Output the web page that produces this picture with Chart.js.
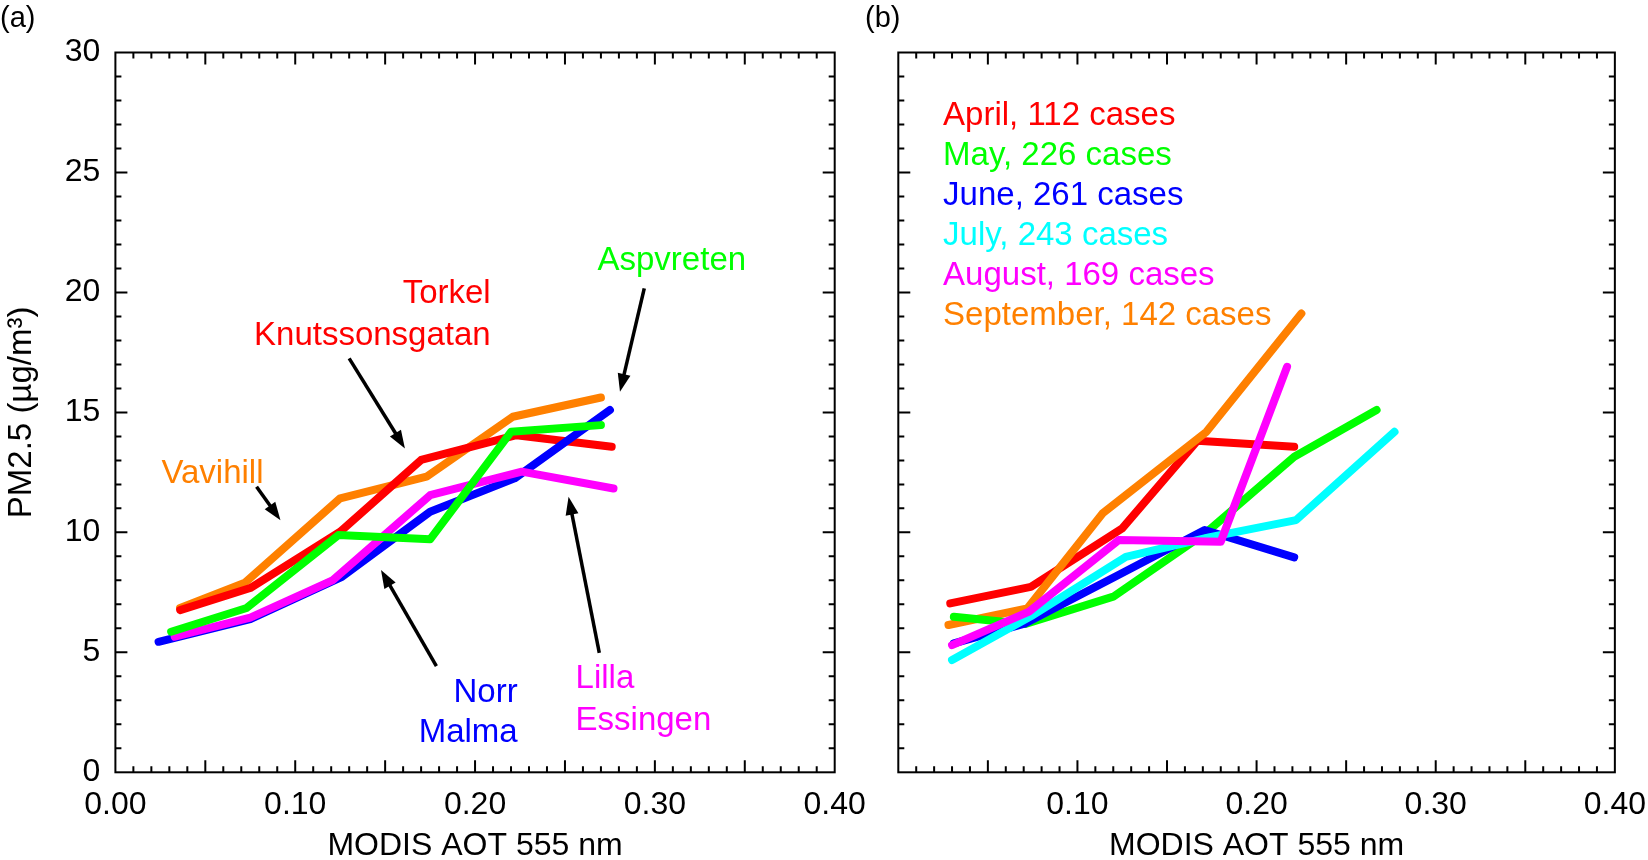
<!DOCTYPE html>
<html>
<head>
<meta charset="utf-8">
<title>PM2.5 vs MODIS AOT</title>
<script src="https://cdn.jsdelivr.net/npm/chart.js@4.4.1/dist/chart.umd.min.js"></script>
<style>
  html, body { margin: 0; padding: 0; background: #fff; overflow: hidden; }
  #wrap { position: relative; width: 1648px; height: 860px; }
  .panel { position: absolute; top: 0; height: 860px; }
  #panelA { left: 0; width: 880px; }
  #panelB { left: 860px; width: 800px; }
</style>
</head>
<body>
<div id="wrap">
  <div class="panel" id="panelA"><canvas id="chartA" width="880" height="860"></canvas></div>
  <div class="panel" id="panelB"><canvas id="chartB" width="800" height="860"></canvas></div>
</div>
<script>
// ---- data, panel (a): stations ----
const vavihillAot = [0.036, 0.072, 0.125, 0.173, 0.221, 0.270];
const vavihillPm  = [6.85, 7.90, 11.42, 12.32, 14.82, 15.62];
const torkelAot   = [0.036, 0.075, 0.125, 0.170, 0.223, 0.276];
const torkelPm    = [6.76, 7.68, 10.03, 13.02, 14.05, 13.57];
const norrAot     = [0.024, 0.075, 0.126, 0.175, 0.222, 0.275];
const norrPm      = [5.44, 6.38, 8.15, 10.86, 12.25, 15.10];
const lillaAot    = [0.033, 0.075, 0.121, 0.175, 0.226, 0.277];
const lillaPm     = [5.65, 6.45, 8.01, 11.55, 12.53, 11.83];
const aspvretenAot = [0.031, 0.073, 0.124, 0.175, 0.220, 0.270];
const aspvretenPm  = [5.86, 6.85, 9.89, 9.71, 14.19, 14.47];

// ---- data, panel (b): months ----
const aprilAot = [0.029, 0.074, 0.125, 0.167, 0.221];
const aprilPm  = [7.04, 7.73, 10.17, 13.82, 13.57];
const mayAot   = [0.031, 0.071, 0.120, 0.172, 0.221, 0.267];
const mayPm    = [6.48, 6.18, 7.32, 10.0, 13.15, 15.10];
const juneAot  = [0.031, 0.071, 0.121, 0.171, 0.221];
const junePm   = [5.37, 6.21, 8.15, 10.10, 8.96];
const julyAot  = [0.030, 0.074, 0.127, 0.174, 0.222, 0.277];
const julyPm   = [4.68, 6.50, 8.98, 9.80, 10.51, 14.19];
const augustAot = [0.030, 0.073, 0.123, 0.180, 0.217];
const augustPm  = [5.30, 6.70, 9.68, 9.61, 16.90];
const septemberAot = [0.028, 0.072, 0.114, 0.172, 0.225];
const septemberPm  = [6.14, 6.83, 10.79, 14.19, 19.12];

const monthLabels = ["April, 112 cases", "May, 226 cases", "June, 261 cases",
                     "July, 243 cases", "August, 169 cases", "September, 142 cases"];

// ---- axes ----
const xMin = 0, xMax = 0.4, xStep = 0.1, xMinor = 0.01;
const yMin = 0, yMax = 30, yStep = 5, yMinor = 1;

const RED = "#ff0000", GREEN = "#00ff00", BLUE = "#0000ff",
      CYAN = "#00ffff", MAGENTA = "#ff00ff", ORANGE = "#ff8000";
const FONT = "'Liberation Sans', Arial, Helvetica, sans-serif";

function pts(xs, ys) {
  return xs.map((x, i) => ({ x: x, y: ys[i] }));
}

function series(label, xs, ys, color) {
  return {
    label: label,
    data: pts(xs, ys),
    showLine: true,
    borderColor: color,
    backgroundColor: color,
    borderWidth: 8,
    borderCapStyle: "round",
    borderJoinStyle: "round",
    pointRadius: 0,
    tension: 0
  };
}

// frame plus inward ticks on all four sides
const frameTicks = {
  id: "frameTicks",
  afterDraw(chart) {
    const { ctx, chartArea: a, scales } = chart;
    const x = scales.x, y = scales.y;
    ctx.save();
    ctx.strokeStyle = "#000";
    ctx.lineWidth = 2;
    ctx.beginPath();
    const nx = Math.round((xMax - xMin) / xMinor);
    for (let i = 1; i < nx; i++) {
      const px = x.getPixelForValue(xMin + i * xMinor);
      const len = i % 5 === 0 ? 12 : 6;
      ctx.moveTo(px, a.bottom); ctx.lineTo(px, a.bottom - len);
      ctx.moveTo(px, a.top); ctx.lineTo(px, a.top + len);
    }
    const ny = Math.round((yMax - yMin) / yMinor);
    for (let j = 1; j < ny; j++) {
      const py = y.getPixelForValue(yMin + j * yMinor);
      const len = j % 5 === 0 ? 12 : 6;
      ctx.moveTo(a.left, py); ctx.lineTo(a.left + len, py);
      ctx.moveTo(a.right, py); ctx.lineTo(a.right - len, py);
    }
    ctx.stroke();
    ctx.strokeRect(a.left, a.top, a.right - a.left, a.bottom - a.top);
    ctx.restore();
  }
};

// labels and arrows, placed in data units
const notes = {
  id: "notes",
  afterDatasetsDraw(chart, args, opts) {
    const { ctx, scales } = chart;
    const x = scales.x, y = scales.y;
    ctx.save();
    ctx.textBaseline = "alphabetic";
    ctx.font = (opts.size || 33) + "px " + FONT;
    (opts.texts || []).forEach(t => {
      ctx.fillStyle = t.color;
      ctx.textAlign = t.align || "left";
      ctx.fillText(t.text, x.getPixelForValue(t.x), y.getPixelForValue(t.y));
    });
    ctx.strokeStyle = "#000";
    ctx.fillStyle = "#000";
    ctx.lineWidth = 3.5;
    (opts.arrows || []).forEach(ar => {
      const x0 = x.getPixelForValue(ar.from[0]), y0 = y.getPixelForValue(ar.from[1]);
      const x1 = x.getPixelForValue(ar.to[0]), y1 = y.getPixelForValue(ar.to[1]);
      const ang = Math.atan2(y1 - y0, x1 - x0);
      const hl = 18, hw = 6.5;
      const bx = x1 - hl * Math.cos(ang), by = y1 - hl * Math.sin(ang);
      ctx.beginPath();
      ctx.moveTo(x0, y0);
      ctx.lineTo(bx + 4 * Math.cos(ang), by + 4 * Math.sin(ang));
      ctx.stroke();
      ctx.beginPath();
      ctx.moveTo(x1, y1);
      ctx.lineTo(bx + hw * Math.sin(ang), by - hw * Math.cos(ang));
      ctx.lineTo(bx - hw * Math.sin(ang), by + hw * Math.cos(ang));
      ctx.closePath();
      ctx.fill();
    });
    if (opts.panel) {
      ctx.fillStyle = "#000";
      ctx.textAlign = "left";
      ctx.font = "29px " + FONT;
      ctx.fillText(opts.panel, opts.panelX, 27);
    }
    ctx.restore();
  }
};

function xAxis(showZero, withTitle) {
  return {
    type: "linear", min: xMin, max: xMax,
    grid: { display: false, drawTicks: false },
    border: { display: false },
    ticks: {
      stepSize: xStep, padding: 14, autoSkip: false, maxRotation: 0,
      color: "#000", font: { size: 32, family: FONT },
      callback: v => (!showZero && Math.abs(v) < 1e-9) ? "" : v.toFixed(2)
    },
    title: {
      display: withTitle, text: "MODIS AOT 555 nm", color: "#000",
      font: { size: 32, family: FONT, lineHeight: 0.85 }, padding: 0
    },
    afterFit: s => { s.height = 87.7; }
  };
}

const common = {
  responsive: false,
  animation: false,
  events: [],
  plugins: { legend: { display: false }, tooltip: { enabled: false } }
};

// panel (a)
new Chart(document.getElementById("chartA").getContext("2d"), {
  type: "scatter",
  data: {
    datasets: [
      series("Aspvreten", aspvretenAot, aspvretenPm, GREEN),
      series("Lilla Essingen", lillaAot, lillaPm, MAGENTA),
      series("Norr Malma", norrAot, norrPm, BLUE),
      series("Torkel Knutssonsgatan", torkelAot, torkelPm, RED),
      series("Vavihill", vavihillAot, vavihillPm, ORANGE)
    ]
  },
  options: Object.assign({}, common, {
    layout: { padding: { top: 52.5, right: 45.3, bottom: 0, left: 0 } },
    scales: {
      x: xAxis(true, true),
      y: {
        min: yMin, max: yMax,
        grid: { display: false, drawTicks: false },
        border: { display: false },
        ticks: { stepSize: yStep, padding: 15, color: "#000", font: { size: 32, family: FONT } },
        title: {
          display: true, text: "PM2.5 (µg/m³)", color: "#000",
          font: { size: 33, family: FONT }, padding: { top: 2, bottom: 0 }
        },
        afterFit: s => { s.width = 115.4; }
      }
    },
    plugins: Object.assign({}, common.plugins, {
      notes: {
        panel: "(a)", panelX: 0,
        texts: [
          { text: "Aspvreten", x: 0.2681, y: 20.93, color: GREEN, align: "left" },
          { text: "Torkel", x: 0.2087, y: 19.54, color: RED, align: "right" },
          { text: "Knutssonsgatan", x: 0.2087, y: 17.80, color: RED, align: "right" },
          { text: "Vavihill", x: 0.0256, y: 12.05, color: ORANGE, align: "left" },
          { text: "Norr", x: 0.2237, y: 2.93, color: BLUE, align: "right" },
          { text: "Malma", x: 0.2237, y: 1.26, color: BLUE, align: "right" },
          { text: "Lilla", x: 0.2559, y: 3.51, color: MAGENTA, align: "left" },
          { text: "Essingen", x: 0.2559, y: 1.76, color: MAGENTA, align: "left" }
        ],
        arrows: [
          { from: [0.1300, 17.25], to: [0.1610, 13.50] },
          { from: [0.2941, 20.17], to: [0.2806, 15.86] },
          { from: [0.0785, 11.90], to: [0.0918, 10.51] },
          { from: [0.1785, 4.43], to: [0.1477, 8.43] },
          { from: [0.2691, 4.98], to: [0.2520, 11.48] }
        ]
      }
    })
  }),
  plugins: [frameTicks, notes]
});

// panel (b)
const monthColors = [RED, GREEN, BLUE, CYAN, MAGENTA, ORANGE];
new Chart(document.getElementById("chartB").getContext("2d"), {
  type: "scatter",
  data: {
    datasets: [
      series(monthLabels[4], augustAot, augustPm, MAGENTA),
      series(monthLabels[3], julyAot, julyPm, CYAN),
      series(monthLabels[2], juneAot, junePm, BLUE),
      series(monthLabels[1], mayAot, mayPm, GREEN),
      series(monthLabels[5], septemberAot, septemberPm, ORANGE),
      series(monthLabels[0], aprilAot, aprilPm, RED)
    ]
  },
  options: Object.assign({}, common, {
    layout: { padding: { top: 52.5, right: 41.7, bottom: 0, left: 0 } },
    scales: {
      x: xAxis(false, true),
      y: {
        min: yMin, max: yMax,
        grid: { display: false, drawTicks: false },
        border: { display: false },
        ticks: { display: false, stepSize: yStep },
        afterFit: s => { s.width = 38.3; }
      }
    },
    plugins: Object.assign({}, common.plugins, {
      notes: {
        panel: "(b)", panelX: 5, size: 33,
        texts: monthLabels.map((m, i) => ({
          text: m, x: 0.025, y: 26.97 - i * 1.667, color: monthColors[i], align: "left"
        }))
      }
    })
  }),
  plugins: [frameTicks, notes]
});
</script>
</body>
</html>
